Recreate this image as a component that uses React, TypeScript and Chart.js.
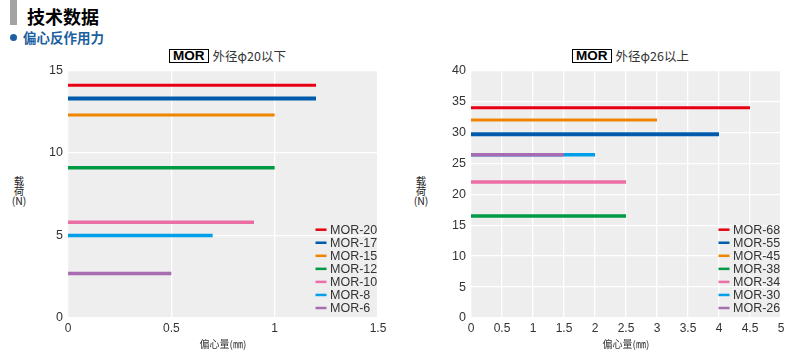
import React, { useEffect, useRef } from "react";
import { Chart, registerables } from "chart.js";

Chart.register(...registerables);

// ---- Data ----
const leftModels = ["MOR-20", "MOR-17", "MOR-15", "MOR-12", "MOR-10", "MOR-8", "MOR-6"];
const leftLoads = [14.1, 13.3, 12.3, 9.1, 5.8, 5.0, 2.7];
const leftMaxEcc = [1.2, 1.2, 1.0, 1.0, 0.9, 0.7, 0.5];

const rightModels = ["MOR-68", "MOR-55", "MOR-45", "MOR-38", "MOR-34", "MOR-30", "MOR-26"];
const rightLoads = [34, 29.7, 32, 16.5, 22, 26.4, 26.4];
const rightMaxEcc = [4.5, 4, 3, 2.5, 2.5, 2, 1.5];

const seriesColors = ["#e60012", "#005bac", "#f08300", "#009944", "#eb6ea5", "#00a0e9", "#a86cb0"];
const seriesWidths = [3, 4, 3, 3.5, 3.5, 3.5, 3.5];

const xTitle = "偏心量(㎜)";
const yTitleChars = ["载", "荷", "(N)"];

const FONT = '"Liberation Sans", "Noto Sans CJK SC", sans-serif';
const CJK = '"Noto Sans CJK SC", "Liberation Sans", sans-serif';
const TEXT = "#333333";

const bgPlugin = {
  id: "plotBg",
  beforeDraw(chart: any) {
    const { ctx, chartArea } = chart;
    ctx.save();
    ctx.fillStyle = "#eeeeee";
    ctx.fillRect(chartArea.left, chartArea.top, chartArea.right - chartArea.left, chartArea.bottom - chartArea.top);
    ctx.restore();
  },
};

const legendPlugin = {
  id: "cornerLegend",
  afterDraw(chart: any) {
    const { ctx, chartArea } = chart;
    const ds = chart.data.datasets;
    const row = 13.05;
    const n = ds.length;
    ctx.save();
    ctx.font = "12.5px " + FONT;
    ctx.textBaseline = "middle";
    ctx.textAlign = "left";
    for (let i = 0; i < n; i++) {
      const y = chartArea.bottom - 10 - (n - 1 - i) * row;
      ctx.strokeStyle = ds[i].borderColor;
      ctx.lineWidth = 2.5;
      ctx.beginPath();
      ctx.moveTo(chartArea.right - 62.5, y);
      ctx.lineTo(chartArea.right - 51.5, y);
      ctx.stroke();
      ctx.fillStyle = TEXT;
      ctx.fillText(ds[i].label, chartArea.right - 48, y + 0.5);
    }
    ctx.restore();
  },
};

function buildConfig(models: string[], loads: number[], ecc: number[], xMax: number, yMax: number, yWidth: number, padTop: number, padRight: number) {
  return {
    type: "line" as const,
    data: {
      datasets: models.map((m, i) => ({
        label: m,
        data: [
          { x: 0, y: loads[i] },
          { x: ecc[i], y: loads[i] },
        ],
        borderColor: seriesColors[i],
        backgroundColor: seriesColors[i],
        borderWidth: seriesWidths[i],
        borderCapStyle: "butt",
        pointRadius: 0,
        fill: false,
        order: models.length - i,
      })),
    },
    options: {
      animation: false,
      responsive: false,
      maintainAspectRatio: false,
      layout: { padding: { top: padTop, right: padRight, bottom: 0, left: 0 } },
      plugins: { legend: { display: false }, tooltip: { enabled: false }, title: { display: false } },
      scales: {
        x: {
          type: "linear",
          min: 0,
          max: xMax,
          ticks: {
            stepSize: 0.5,
            padding: 3,
            color: TEXT,
            font: { size: 12, family: FONT },
            callback: (v: any) => String(Math.round(Number(v) * 10) / 10),
          },
          grid: { color: "#ffffff", lineWidth: 1.3, drawTicks: false },
          border: { display: false },
          title: { display: true, text: xTitle, color: TEXT, font: { size: 10, family: CJK }, padding: { top: 0, bottom: 3 } },
          afterFit: (s: any) => {
            s.height = 35;
          },
        },
        y: {
          type: "linear",
          min: 0,
          max: yMax,
          ticks: {
            stepSize: 5,
            padding: 5,
            color: TEXT,
            font: { size: 12.5, family: FONT },
            callback: (v: any) => String(v),
          },
          grid: { color: "#ffffff", lineWidth: 1.3, drawTicks: false },
          border: { display: false },
          afterFit: (s: any) => {
            s.width = yWidth;
          },
        },
      },
    },
    plugins: [bgPlugin, legendPlugin],
  };
}

function ChartCanvas(props: { cfg: any; left: number; width: number }) {
  const ref = useRef<HTMLCanvasElement>(null);
  useEffect(() => {
    const c = new Chart(ref.current as HTMLCanvasElement, props.cfg);
    return () => c.destroy();
  }, []);
  return (
    <canvas
      ref={ref}
      width={props.width}
      height={295}
      style={{ position: "absolute", left: props.left, top: 58, width: props.width, height: 295 }}
    />
  );
}

function ChartTitle(props: { center: number; text: string }) {
  return (
    <div
      style={{
        position: "absolute",
        left: props.center - 53,
        top: 49,
        display: "flex",
        alignItems: "center",
        fontFamily: CJK,
        whiteSpace: "nowrap",
      }}
    >
      <span
        style={{
          border: "1.5px solid #000",
          fontFamily: FONT,
          fontWeight: 700,
          fontSize: 13.5,
          lineHeight: "12px",
          padding: "0 3px",
          color: "#000",
          height: 12,
        }}
      >
        MOR
      </span>
      <span style={{ fontSize: 12.5, color: TEXT, marginLeft: 4, lineHeight: "14px" }}>{props.text}</span>
    </div>
  );
}

function YTitle(props: { left: number }) {
  return (
    <div
      style={{
        position: "absolute",
        left: props.left,
        top: 176,
        width: 16,
        textAlign: "center",
        fontFamily: CJK,
        fontSize: 10.5,
        lineHeight: "10px",
        color: "#222",
      }}
    >
      {yTitleChars.map((c) => (
        <div key={c}>{c}</div>
      ))}
    </div>
  );
}

export default function App() {
  const leftCfg = buildConfig(leftModels, leftLoads, leftMaxEcc, 1.5, 15, 68, 10, 22);
  const rightCfg = buildConfig(rightModels, rightLoads, rightMaxEcc, 5, 40, 71, 11, 16);
  return (
    <div style={{ position: "fixed", left: 0, top: 0, width: 797, height: 353, background: "#fff", overflow: "hidden" }}>
      <div style={{ position: "absolute", left: 10, top: 0, width: 7, height: 25, background: "#a3a3a3" }} />
      <div
        style={{
          position: "absolute",
          left: 27,
          top: 6,
          fontFamily: CJK,
          fontWeight: 700,
          fontSize: 18,
          lineHeight: "20px",
          color: "#000",
          whiteSpace: "nowrap",
        }}
      >
        技术数据
      </div>
      <div style={{ position: "absolute", left: 10, top: 34, width: 7, height: 7, borderRadius: "50%", background: "#1e5f9e" }} />
      <div
        style={{
          position: "absolute",
          left: 23,
          top: 29,
          fontFamily: CJK,
          fontWeight: 700,
          fontSize: 13.5,
          lineHeight: "16px",
          color: "#1e5f9e",
          whiteSpace: "nowrap",
        }}
      >
        偏心反作用力
      </div>
      <ChartTitle center={222} text="外径φ20以下" />
      <ChartTitle center={625} text="外径φ26以上" />
      <YTitle left={11} />
      <YTitle left={413} />
      <ChartCanvas cfg={leftCfg} left={0} width={400} />
      <ChartCanvas cfg={rightCfg} left={400} width={397} />
    </div>
  );
}
